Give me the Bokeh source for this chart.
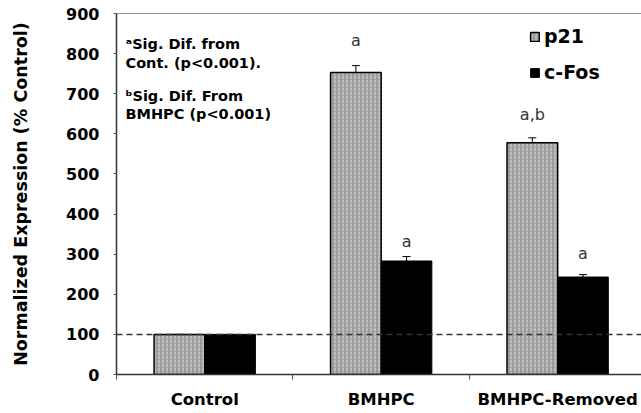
from bokeh.plotting import figure
from bokeh.models import (ColumnDataSource, FixedTicker, Whisker, TeeHead, Span,
                          Legend, LegendItem, Label)
from bokeh.core.properties import value
from bokeh.embed import file_html
from bokeh.resources import INLINE

categories = ["Control", "BMHPC", "BMHPC-Removed"]
p21 = [100, 753, 578]
p21_err = [0, 17, 12]
cfos = [100, 283, 243]
cfos_err = [0, 11, 6]
p21_annot = ["", "a", "a,b"]
p21_annot_y = [0, 810, 625]
cfos_annot = ["", "a", "a"]
cfos_annot_y = [0, 309, 277]
y_ticks = [0, 100, 200, 300, 400, 500, 600, 700, 800, 900]

FONT = "DejaVu Sans"
n = len(categories)
centers = [i + 0.5 for i in range(n)]
bw = 0.287
off = 0.1435

p = figure(width=641, height=413, output_backend="svg", toolbar_location=None,
           x_range=(0, 2.975), y_range=(0, 900),
           min_border_left=116, min_border_right=0, min_border_top=13,
           min_border_bottom=39)
p.outline_line_color = None
p.grid.grid_line_color = None
p.background_fill_color = "white"
p.border_fill_color = "white"

src_p = ColumnDataSource(dict(x=[c - off for c in centers], top=p21,
                              up=[v + e for v, e in zip(p21, p21_err)],
                              lab=p21_annot, ly=p21_annot_y))
src_c = ColumnDataSource(dict(x=[c + off for c in centers], top=cfos,
                              up=[v + e for v, e in zip(cfos, cfos_err)],
                              lab=cfos_annot, ly=cfos_annot_y))

r1 = p.vbar(x="x", top="top", width=bw, source=src_p, fill_color="#9c9c9c",
            line_color="black", line_width=1.5, hatch_pattern=":",
            hatch_color="#d0d0d0", hatch_scale=4, hatch_weight=1.3)
r2 = p.vbar(x="x", top="top", width=bw, source=src_c, fill_color="black",
            line_color="black", line_width=1)

for s in (src_p, src_c):
    w = Whisker(base="x", upper="up", lower="top", source=s, line_color="black",
                line_width=1, upper_head=TeeHead(size=8, line_color="black", line_width=1),
                lower_head=None)
    p.add_layout(w)
    p.text(x="x", y="ly", text="lab", source=s, text_align="center",
           text_baseline="bottom", text_font=value(FONT), text_font_size="16px",
           text_color="#333333")

p.add_layout(Span(location=100, dimension="width", line_color="#333333",
                  line_dash="6 4", line_width=1.5))
p.add_layout(Span(location=900, dimension="width", line_color="#333333",
                  line_width=1))

# axes
xa = p.xaxis[0]
xa.ticker = FixedTicker(ticks=centers, minor_ticks=[0, 1, 2, 3])
xa.major_label_overrides = {c: cat for c, cat in zip(centers, categories)}
xa.major_tick_out = 0
xa.major_tick_in = 0
xa.minor_tick_out = 5
xa.minor_tick_in = 0
xa.minor_tick_line_color = "#555555"
xa.axis_line_color = "#333333"
xa.axis_line_width = 1.5
xa.major_label_text_font = FONT
xa.major_label_text_font_style = "bold"
xa.major_label_text_font_size = "16.5px"
xa.major_label_text_color = "black"
xa.major_label_standoff = 10

ya = p.yaxis[0]
ya.ticker = FixedTicker(ticks=y_ticks, minor_ticks=[])
ya.axis_label = "Normalized Expression (% Control)"
ya.axis_label_text_font = FONT
ya.axis_label_text_font_style = "bold"
ya.axis_label_text_font_size = "17.5px"
ya.axis_label_text_color = "black"
ya.axis_label_standoff = 32
ya.major_label_text_font = FONT
ya.major_label_text_font_style = "bold"
ya.major_label_text_font_size = "16px"
ya.major_label_text_color = "black"
ya.major_label_standoff = 14
ya.major_tick_out = 3
ya.major_tick_in = 0
ya.major_tick_line_color = "#555555"
ya.axis_line_color = "#333333"
ya.axis_line_width = 1.5

# footnotes
notes = [("\u1d43Sig. Dif. from", 43), ("Cont. (p<0.001).", 62),
         ("\u1d47Sig. Dif. From", 95), ("BMHPC (p<0.001)", 113)]
for t, yy in notes:
    p.add_layout(Label(x=125 - 116, y=374 - yy, x_units="screen", y_units="screen",
                       text=t, text_font=FONT, text_font_style="bold",
                       text_font_size="14.5px", text_baseline="middle",
                       text_color="black"))

legend = Legend(items=[LegendItem(label="p21", renderers=[r1]),
                       LegendItem(label="c-Fos", renderers=[r2])],
                location=(413, 291), orientation="vertical",
                label_text_font=FONT, label_text_font_style="bold",
                label_text_font_size="19px", label_text_color="black",
                glyph_width=11, glyph_height=11,
                label_standoff=4, spacing=14, padding=0, margin=0,
                border_line_color=None, background_fill_alpha=0)
p.add_layout(legend)

open("out.html", "w").write(file_html(p, INLINE))
